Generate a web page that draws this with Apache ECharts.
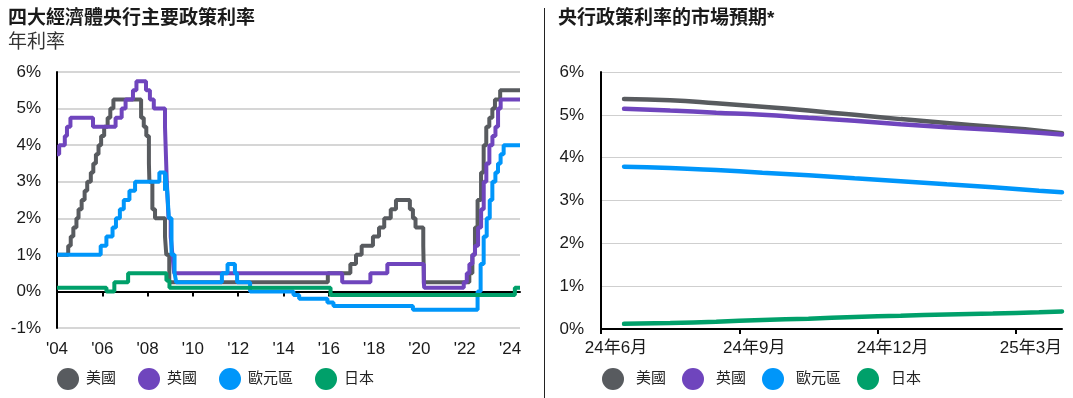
<!DOCTYPE html>
<html>
<head>
<meta charset="utf-8">
<script src="https://cdn.jsdelivr.net/npm/echarts@6/dist/echarts.min.js"></script>
<style>
  html, body { margin: 0; padding: 0; background: #fff; }
  #main { width: 1073px; height: 398px; }
</style>
</head>
<body>
<div id="main"></div>
<script>
// series names + colours
const names = ['美國', '英國', '歐元區', '日本'];
const colors = ['#585b5f', '#6f45bd', '#0096fa', '#00a06a'];

// left chart: policy rate changes (date the rate took effect, new rate)
const usDates = ['2004-01-01', '2004-06-30', '2004-08-10', '2004-09-21', '2004-11-10', '2004-12-14', '2005-02-02', '2005-03-22', '2005-05-03', '2005-06-30', '2005-08-09', '2005-09-20', '2005-11-01', '2005-12-13', '2006-01-31', '2006-03-28', '2006-05-10', '2006-06-29', '2007-09-18', '2007-10-31', '2007-12-11', '2008-01-22', '2008-01-30', '2008-03-18', '2008-04-30', '2008-10-08', '2008-10-29', '2008-12-16', '2015-12-16', '2016-12-14', '2017-03-15', '2017-06-14', '2017-12-13', '2018-03-21', '2018-06-13', '2018-09-26', '2018-12-19', '2019-07-31', '2019-09-18', '2019-10-30', '2020-03-03', '2020-03-15', '2022-03-16', '2022-05-04', '2022-06-15', '2022-07-27', '2022-09-21', '2022-11-02', '2022-12-14', '2023-02-01', '2023-03-22', '2023-05-03', '2023-07-26', '2024-06-10'];
const usRates = [1.00, 1.25, 1.50, 1.75, 2.00, 2.25, 2.50, 2.75, 3.00, 3.25, 3.50, 3.75, 4.00, 4.25, 4.50, 4.75, 5.00, 5.25, 4.75, 4.50, 4.25, 3.50, 3.00, 2.25, 2.00, 1.50, 1.00, 0.25, 0.50, 0.75, 1.00, 1.25, 1.50, 1.75, 2.00, 2.25, 2.50, 2.25, 2.00, 1.75, 1.25, 0.25, 0.50, 1.00, 1.75, 2.50, 3.25, 4.00, 4.50, 4.75, 5.00, 5.25, 5.50, 5.50];

const ukDates = ['2004-01-01', '2004-02-05', '2004-05-06', '2004-06-10', '2004-08-05', '2005-08-04', '2006-08-03', '2006-11-09', '2007-01-11', '2007-05-10', '2007-07-05', '2007-12-06', '2008-02-07', '2008-04-10', '2008-10-08', '2008-11-06', '2008-12-04', '2009-01-08', '2009-02-05', '2009-03-05', '2016-08-04', '2017-11-02', '2018-08-02', '2020-03-11', '2020-03-19', '2021-12-16', '2022-02-03', '2022-03-17', '2022-05-05', '2022-06-16', '2022-08-04', '2022-09-22', '2022-11-03', '2022-12-15', '2023-02-02', '2023-03-23', '2023-05-11', '2023-06-22', '2023-08-03', '2024-06-10'];
const ukRates = [3.75, 4.00, 4.25, 4.50, 4.75, 4.50, 4.75, 5.00, 5.25, 5.50, 5.75, 5.50, 5.25, 5.00, 4.50, 3.00, 2.00, 1.50, 1.00, 0.50, 0.25, 0.50, 0.75, 0.25, 0.10, 0.25, 0.50, 0.75, 1.00, 1.25, 1.75, 2.25, 3.00, 3.50, 4.00, 4.25, 4.50, 5.00, 5.25, 5.25];

const euDates = ['2004-01-01', '2005-12-06', '2006-03-08', '2006-06-15', '2006-08-09', '2006-10-11', '2006-12-13', '2007-03-14', '2007-06-13', '2008-07-09', '2008-10-08', '2008-10-15', '2008-11-12', '2008-12-10', '2009-01-21', '2009-03-11', '2009-04-08', '2011-04-13', '2011-07-13', '2011-11-09', '2011-12-14', '2012-07-11', '2014-06-11', '2014-09-10', '2015-12-09', '2016-03-16', '2019-09-18', '2022-07-27', '2022-09-14', '2022-11-02', '2022-12-21', '2023-02-08', '2023-03-22', '2023-05-10', '2023-06-21', '2023-08-02', '2023-09-20', '2024-06-10'];
const euRates = [1.00, 1.25, 1.50, 1.75, 2.00, 2.25, 2.50, 2.75, 3.00, 3.25, 2.75, 3.25, 2.75, 2.00, 1.00, 0.50, 0.25, 0.50, 0.75, 0.50, 0.25, 0.00, -0.10, -0.20, -0.30, -0.40, -0.50, 0.00, 0.75, 1.50, 2.00, 2.50, 3.00, 3.25, 3.50, 3.75, 4.00, 4.00];

const jpDates = ['2004-01-01', '2006-03-09', '2006-07-14', '2007-02-21', '2008-10-31', '2008-12-19', '2016-01-29', '2024-03-19', '2024-06-10'];
const jpRates = [0.10, 0.00, 0.25, 0.50, 0.30, 0.10, -0.10, 0.10, 0.10];

const leftTickYears = [2004, 2006, 2008, 2010, 2012, 2014, 2016, 2018, 2020, 2022, 2024];

// right chart: market expectations, months after 2024-06-01
const rightMonths = [0.5, 1.5, 2.5, 3.5, 4.5, 5.5, 6.5, 7.5, 8.5, 9.5, 10];
const usExpect = [5.37, 5.34, 5.27, 5.19, 5.10, 5.00, 4.90, 4.81, 4.72, 4.63, 4.57];
const ukExpect = [5.14, 5.10, 5.05, 5.00, 4.93, 4.86, 4.78, 4.71, 4.65, 4.58, 4.54];
const euExpect = [3.79, 3.76, 3.71, 3.65, 3.59, 3.52, 3.45, 3.38, 3.31, 3.23, 3.19];
const jpExpect = [0.12, 0.14, 0.17, 0.21, 0.24, 0.28, 0.31, 0.34, 0.36, 0.39, 0.41];
const rightTickMonths = [0, 3, 6, 9];
const rightTickLabels = ['24年6月', '24年9月', '24年12月', '25年3月'];

const FONT = "'Liberation Sans', Arial, 'Noto Sans CJK TC', sans-serif";

function toYear(s) {
	const d = Date.parse(s + 'T00:00:00Z');
	const y = new Date(d).getUTCFullYear();
	const a = Date.UTC(y, 0, 1);
	const b = Date.UTC(y + 1, 0, 1);
	return y + (d - a) / (b - a);
}

function pairs(xs, ys) {
	return xs.map((x, i) => [x, ys[i]]);
}

const endYear = toYear('2024-06-10');

const leftSets = [
	[usDates, usRates],
	[ukDates, ukRates],
	[euDates, euRates],
	[jpDates, jpRates]
];
const rightSets = [usExpect, ukExpect, euExpect, jpExpect];

const myChart = echarts.init(document.getElementById('main'));

const axisLabelStyle = { color: '#1a1a1a', fontSize: 17, fontFamily: FONT };

const option = {
	animation: false,
	color: colors,
	title: [
		{
			text: '四大經濟體央行主要政策利率',
			left: 8,
			top: 9,
			padding: 0,
			textStyle: { fontSize: 19, fontWeight: 'bold', color: '#1a1a1a', fontFamily: FONT }
		},
		{
			text: '年利率',
			left: 8,
			top: 33,
			padding: 0,
			textStyle: { fontSize: 19, fontWeight: 'normal', color: '#333', fontFamily: FONT }
		},
		{
			text: '央行政策利率的市場預期*',
			left: 558,
			top: 9,
			padding: 0,
			textStyle: { fontSize: 19, fontWeight: 'bold', color: '#1a1a1a', fontFamily: FONT }
		}
	],
	legend: [
		{
			data: names,
			left: 57,
			top: 368,
			padding: 0,
			icon: 'circle',
			itemWidth: 22,
			itemHeight: 22,
			itemGap: 22,
			textStyle: { fontSize: 15, color: '#222', fontFamily: FONT, padding: [0, 0, 0, 2] }
		},
		{
			data: names,
			left: 602,
			top: 368,
			padding: 0,
			icon: 'circle',
			itemWidth: 22,
			itemHeight: 22,
			itemGap: 16,
			textStyle: { fontSize: 15, color: '#222', fontFamily: FONT, padding: [0, 0, 0, 7] }
		}
	],
	graphic: [
		{
			type: 'line',
			shape: { x1: 544.5, y1: 8, x2: 544.5, y2: 398 },
			style: { stroke: '#222', lineWidth: 1 }
		}
	],
	grid: [
		{ left: 57, top: 72, width: 463, height: 256 },
		{ left: 601, top: 72, width: 461, height: 257 }
	],
	xAxis: [
		{
			// zero line with ticks
			gridIndex: 0,
			type: 'value',
			position: 'bottom',
			min: 2004,
			max: endYear,
			interval: 2,
			axisLine: { onZero: true, lineStyle: { color: '#000', width: 2 } },
			axisTick: { show: true, length: 5, customValues: leftTickYears.slice(1), lineStyle: { color: '#000', width: 2 } },
			axisLabel: { show: false },
			splitLine: { show: false }
		},
		{
			// labels at the bottom
			gridIndex: 0,
			type: 'value',
			position: 'bottom',
			min: 2004,
			max: endYear,
			interval: 2,
			axisLine: { show: false, onZero: false },
			axisTick: { show: false },
			axisLabel: Object.assign({}, axisLabelStyle, {
				margin: 13,
				customValues: leftTickYears,
				formatter: (v) => "'" + String(Math.round(v)).slice(2)
			}),
			splitLine: { show: false }
		},
		{
			gridIndex: 1,
			type: 'value',
			min: 0,
			max: 10,
			interval: 3,
			axisLine: { onZero: false, lineStyle: { color: '#000', width: 2 } },
			axisTick: { show: true, length: 5, customValues: rightTickMonths, lineStyle: { color: '#000', width: 2 } },
			axisLabel: Object.assign({}, axisLabelStyle, {
				margin: 11,
				padding: [0, 0, 0, 30],
				customValues: rightTickMonths,
				formatter: (v) => rightTickLabels[rightTickMonths.indexOf(Math.round(v))] || ''
			}),
			splitLine: { show: false }
		}
	],
	yAxis: [
		{
			gridIndex: 0,
			type: 'value',
			min: -1,
			max: 6,
			interval: 1,
			axisLine: { show: true, lineStyle: { color: '#000', width: 2 } },
			axisTick: { show: false },
			axisLabel: Object.assign({}, axisLabelStyle, { margin: 16, formatter: '{value}%' }),
			splitLine: { lineStyle: { color: '#d6d6d6', width: 2 } }
		},
		{
			gridIndex: 1,
			type: 'value',
			min: 0,
			max: 6,
			interval: 1,
			axisLine: { show: true, lineStyle: { color: '#000', width: 2 } },
			axisTick: { show: false },
			axisLabel: Object.assign({}, axisLabelStyle, { margin: 17, formatter: '{value}%' }),
			splitLine: { lineStyle: { color: '#cfcfcf', width: 1 } }
		}
	],
	series: []
};

leftSets.forEach(([dates, rates], i) => {
	option.series.push({
		name: names[i],
		type: 'line',
		xAxisIndex: 0,
		yAxisIndex: 0,
		step: 'end',
		showSymbol: false,
		data: pairs(dates.map(toYear), rates),
		lineStyle: { width: 4, color: colors[i] },
		itemStyle: { color: colors[i] }
	});
});

rightSets.forEach((vals, i) => {
	option.series.push({
		name: names[i],
		type: 'line',
		xAxisIndex: 2,
		yAxisIndex: 1,
		smooth: true,
		showSymbol: false,
		data: pairs(rightMonths, vals),
		lineStyle: { width: 4.5, color: colors[i], cap: 'round' },
		itemStyle: { color: colors[i] }
	});
});

myChart.setOption(option);

window.addEventListener('resize', function () {
	myChart.resize();
});
</script>
</body>
</html>
